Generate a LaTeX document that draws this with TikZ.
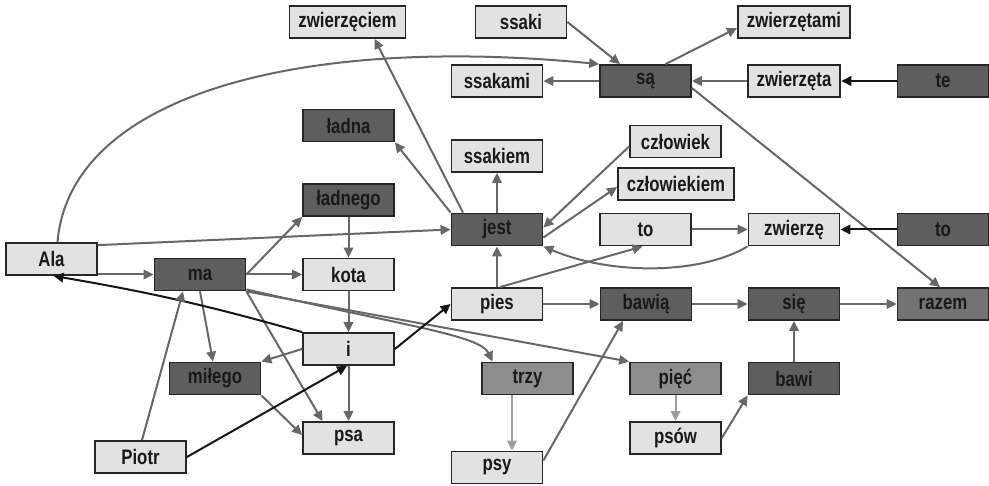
\documentclass[tikz,border=0pt]{standalone}
\usepackage{fontspec}
\setmainfont{Liberation Sans}[FakeStretch=0.8]
\usetikzlibrary{arrows.meta}
\definecolor{boxlight}{HTML}{E2E2E2}
\definecolor{boxdark}{HTML}{5E5E5E}
\definecolor{boxdim}{HTML}{737373}
\definecolor{boxmid}{HTML}{8E8E8E}
\definecolor{edgegray}{HTML}{676767}
\definecolor{edgepale}{HTML}{A0A0A0}
\definecolor{edgeblack}{HTML}{151515}

\begin{document}
\begin{tikzpicture}[x=1pt, y=-1pt,
  font=\fontsize{21}{25}\selectfont\bfseries,
  w/.style={draw=black!85, line width=1.8pt, minimum width=91pt, minimum height=32pt,
    inner xsep=9pt, inner ysep=2pt, text=black!90},
  lt/.style={w, fill=boxlight},
  dk/.style={w, fill=boxdark},
  dm/.style={w, fill=boxdim},
  md/.style={w, fill=boxmid},
  a/.style={-{Triangle[length=10pt,width=9.5pt]}, line width=2pt, draw=edgegray},
  ab/.style={a, draw=edgeblack},
  al/.style={a, draw=edgepale}]
  \useasboundingbox (0,0) rectangle (989,486);
  % top rows
  \node[lt] (zwierzeciem) at (347.5,22) {zwierzęciem};
  \node[lt] (ssaki) at (521,22) {ssaki};
  \node[lt] (zwierzetami) at (794,22) {zwierzętami};
  \node[lt] (ssakami) at (497,81) {ssakami};
  \node[dk] (sa) at (645.5,81) {są};
  \node[lt] (zwierzeta) at (794,81) {zwierzęta};
  \node[dk] (te) at (943,81) {te};
  \node[dk] (ladna) at (348.5,125.5) {ładna};
  \node[lt] (ssakiem) at (497,156) {ssakiem};
  \node[lt] (czlowiek) at (675.5,141.5) {człowiek};
  \node[lt] (czlowiekiem) at (676,184) {człowiekiem};
  \node[dk] (ladnego) at (348.5,200) {ładnego};
  \node[dk] (jest) at (497,229.5) {jest};
  \node[lt] (to) at (645.5,229.5) {to};
  \node[lt] (zwierze) at (794,229.5) {zwierzę};
  \node[dk] (tob) at (943,229.5) {to};
  % middle rows
  \node[lt] (ala) at (51.5,259) {Ala};
  \node[dk] (ma) at (200,274.5) {ma};
  \node[lt] (kota) at (348.5,274.5) {kota};
  \node[lt] (pies) at (497,304) {pies};
  \node[dk] (bawia) at (646,304) {bawią};
  \node[dk] (sie) at (794,304) {się};
  \node[dm] (razem) at (943,304) {razem};
  \node[lt] (i) at (348.5,349) {i};
  \node[dk] (milego) at (215,378.5) {miłego};
  \node[md] (trzy) at (527.5,378.5) {trzy};
  \node[md] (piec) at (675.5,378.5) {pięć};
  \node[dk] (bawi) at (794,378.5) {bawi};
  % bottom row
  \node[lt] (psa) at (348.5,438) {psa};
  \node[lt] (psow) at (675.5,438) {psów};
  \node[lt] (piotr) at (140.5,457) {Piotr};
  \node[lt] (psy) at (497,467.5) {psy};

  \draw[a] (ssaki.east) -- ([xshift=-25.5pt]sa.north);
  \draw[a] ([xshift=20pt]sa.north) -- ([yshift=-6pt]zwierzetami.west);
  \draw[a] (sa.west) -- (ssakami.east);
  \draw[a] (zwierzeta.west) -- (sa.east);
  \draw[ab] (te.west) -- (zwierzeta.east);
  \draw[a] ([yshift=-7pt]sa.east) -- ([xshift=-3pt]razem.north);
  \draw[a] ([xshift=6pt]ala.north) .. controls (70,95) and (300,35) .. (sa.north west);
  \draw[a] ([yshift=-3pt]ala.north east) -- (jest.west);
  \draw[a] (ala.east |- ma.west) -- (ma.west);
  \draw[a] ([xshift=-34pt]jest.north) -- ([xshift=27pt]zwierzeciem.south);
  \draw[a] (jest.north west) -- (ladna.south east);
  \draw[a] (jest.north) -- (ssakiem.south);
  \draw[a] ([yshift=-5pt]czlowiek.west) -- ([yshift=2pt]jest.east);
  \draw[a] ([yshift=-8pt]jest.east) -- ([yshift=-3pt]czlowiekiem.west);
  \draw[a] (zwierze.south west) .. controls (700,275) and (610,275) .. (jest.south east);
  \draw[a] (to.east) -- (zwierze.west);
  \draw[ab] (tob.west) -- (zwierze.east);
  \draw[a] (pies.north) -- (jest.south);
  \draw[a] ([xshift=3pt]pies.north) -- ([xshift=-3pt]to.south);
  \draw[a] (pies.east) -- (bawia.west);
  \draw[a] (bawia.east) -- (sie.west);
  \draw[a] (sie.east) -- (razem.west);
  \draw[a] (bawi.north) -- (sie.south);
  \draw[a] (psow.east) -- (bawi.south west);
  \draw[al] (piec.south) -- (psow.north);
  \draw[al] ([xshift=-15.5pt]trzy.south) -- ([xshift=15pt]psy.north);
  \draw[a] ([yshift=7pt]psy.east) -- ([xshift=-23pt]bawia.south);
  \draw[a] (ma.east) -- (ladnego.south west);
  \draw[a] (ladnego.south) -- (kota.north);
  \draw[a] (ma.east) -- (kota.west);
  \draw[a] (kota.south) -- (i.north);
  \draw[a] (i.south) -- (psa.north);
  \draw[a] (ma.south) -- ([xshift=-2pt]milego.north);
  \draw[a] (ma.south east) -- ([xshift=-26pt]psa.north);
  \draw[a] ([yshift=2pt]ma.south east) .. controls (400,325) and (480,335) .. ([xshift=-35pt]trzy.north);
  \draw[a] (ma.south east) -- (piec.north west);
  \draw[ab] (i.north west) to[bend right=3] ([xshift=2pt]ala.south);
  \draw[a] (i.west) -- (milego.north east);
  \draw[a] (milego.south east) -- ([yshift=3pt]psa.west);
  \draw[a] ([xshift=1.5pt]piotr.north) -- ([xshift=-17pt]ma.south);
  \draw[ab] (piotr.east) -- ([xshift=-1.5pt]i.south);
  \draw[ab] (i.east) -- (pies.west);
\end{tikzpicture}
\end{document}
